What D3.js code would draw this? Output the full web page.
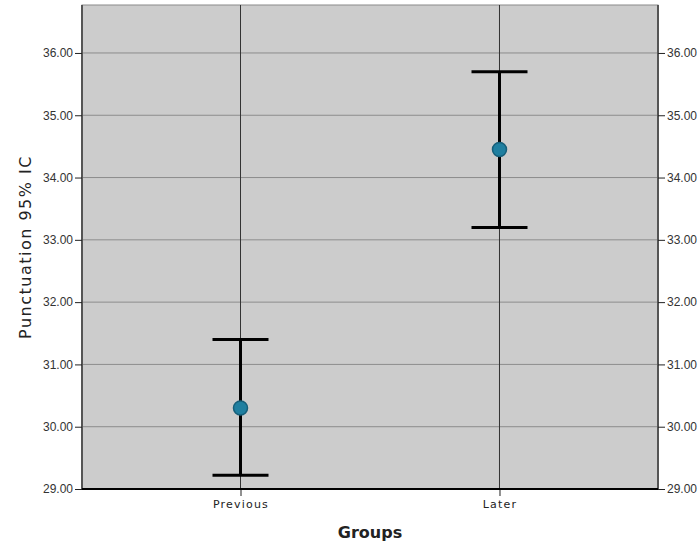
<!DOCTYPE html>
<html lang="en">
<head>
<meta charset="utf-8">
<title>Punctuation 95% IC by group</title>
<script src="https://d3js.org/d3.v7.min.js"></script>
<style>
  body { margin: 0; background: #fff; }
  text { font-family: "DejaVu Sans", Verdana, sans-serif; }
</style>
</head>
<body>
<script>
    // data
    var groups = ["Previous", "Later"];
    var means = [30.30, 34.45];
    var lower = [29.22, 33.20];
    var upper = [31.40, 35.70];
    var yTicks = [29, 30, 31, 32, 33, 34, 35, 36];

    var width = 699,
        height = 544;
    var margin = {top: 5, right: 41, bottom: 55, left: 82};
    var innerW = width - margin.left - margin.right,
        innerH = height - margin.top - margin.bottom;

    var svg = d3.select("body").append("svg")
        .attr("width", width)
        .attr("height", height);

    var x = d3.scalePoint()
        .domain(groups)
        .range([0, innerW])
        .padding(0.612);

    var y = d3.scaleLinear()
        .domain([29, 36.77])
        .range([innerH, 0]);

    var g = svg.append("g")
        .attr("transform", "translate(" + margin.left + "," + margin.top + ")");

    // plot background
    g.append("rect")
        .attr("width", innerW)
        .attr("height", innerH)
        .attr("fill", "#cccccc")
        .attr("stroke", "#8a8a8a")
        .attr("stroke-width", 1);

    // horizontal grid
    g.append("g").selectAll("line")
        .data(yTicks.slice(1))
        .enter().append("line")
          .attr("x1", 0).attr("x2", innerW)
          .attr("y1", function(d) { return y(d); })
          .attr("y2", function(d) { return y(d); })
          .attr("stroke", "#8c8c8c")
          .attr("stroke-width", 1);

    // vertical reference lines at each group
    g.append("g").selectAll("line")
        .data(groups)
        .enter().append("line")
          .attr("x1", function(d) { return x(d); })
          .attr("x2", function(d) { return x(d); })
          .attr("y1", 0).attr("y2", innerH)
          .attr("stroke", "#333")
          .attr("stroke-width", 1);

    // left / right borders
    g.append("line").attr("x1", 0).attr("x2", 0).attr("y1", 0).attr("y2", innerH)
        .attr("stroke", "#555").attr("stroke-width", 2);
    g.append("line").attr("x1", innerW).attr("x2", innerW).attr("y1", 0).attr("y2", innerH)
        .attr("stroke", "#555").attr("stroke-width", 2);

    // axes
    var yLeft = g.append("g")
        .call(d3.axisLeft(y).tickValues(yTicks).tickFormat(d3.format(".2f")).tickSize(7).tickPadding(2));
    var yRight = g.append("g")
        .attr("transform", "translate(" + innerW + ",0)")
        .call(d3.axisRight(y).tickValues(yTicks).tickFormat(d3.format(".2f")).tickSize(7).tickPadding(2));
    [yLeft, yRight].forEach(function(ax) {
      ax.select(".domain").remove();
      ax.selectAll("line").attr("stroke", "#222");
      ax.selectAll("text")
        .attr("fill", "#333")
        .style("font-family", "'Liberation Sans', Arial, sans-serif")
        .style("font-size", "12px");
    });

    var xAx = g.append("g")
        .attr("transform", "translate(0," + innerH + ")")
        .call(d3.axisBottom(x).tickSize(7).tickPadding(4));
    xAx.select(".domain").remove();
    xAx.selectAll("line").attr("stroke", "#222");
    xAx.selectAll("text")
        .attr("fill", "#222")
        .style("font-size", "11px")
        .style("letter-spacing", "1.2px");

    g.append("line")
        .attr("x1", 0).attr("x2", innerW)
        .attr("y1", innerH).attr("y2", innerH)
        .attr("stroke", "#000").attr("stroke-width", 2);

    // error bars
    var idx = d3.range(groups.length);
    var cap = 28;
    var bars = g.append("g");
    bars.selectAll(".stem")
        .data(idx).enter().append("line")
          .attr("x1", function(i) { return x(groups[i]); })
          .attr("x2", function(i) { return x(groups[i]); })
          .attr("y1", function(i) { return y(lower[i]); })
          .attr("y2", function(i) { return y(upper[i]); })
          .attr("stroke", "#000").attr("stroke-width", 3);
    bars.selectAll(".capHi")
        .data(idx).enter().append("line")
          .attr("x1", function(i) { return x(groups[i]) - cap; })
          .attr("x2", function(i) { return x(groups[i]) + cap; })
          .attr("y1", function(i) { return y(upper[i]); })
          .attr("y2", function(i) { return y(upper[i]); })
          .attr("stroke", "#000").attr("stroke-width", 3);
    bars.selectAll(".capLo")
        .data(idx).enter().append("line")
          .attr("x1", function(i) { return x(groups[i]) - cap; })
          .attr("x2", function(i) { return x(groups[i]) + cap; })
          .attr("y1", function(i) { return y(lower[i]); })
          .attr("y2", function(i) { return y(lower[i]); })
          .attr("stroke", "#000").attr("stroke-width", 3);

    bars.selectAll("circle")
        .data(idx).enter().append("circle")
          .attr("cx", function(i) { return x(groups[i]); })
          .attr("cy", function(i) { return y(means[i]); })
          .attr("r", 7)
          .attr("fill", "#1f7fa0")
          .attr("stroke", "#165f7a")
          .attr("stroke-width", 1.5);

    // axis titles
    svg.append("text")
        .attr("x", margin.left + innerW / 2)
        .attr("y", 538)
        .attr("text-anchor", "middle")
        .attr("fill", "#222")
        .style("font-size", "16px")
        .style("font-weight", "bold")
        .text("Groups");

    svg.append("text")
        .attr("transform", "translate(31," + (margin.top + innerH / 2) + ") rotate(-90)")
        .attr("text-anchor", "middle")
        .attr("fill", "#222")
        .style("font-size", "16px")
        .style("letter-spacing", "1.5px")
        .text("Punctuation 95% IC");
</script>
</body>
</html>
